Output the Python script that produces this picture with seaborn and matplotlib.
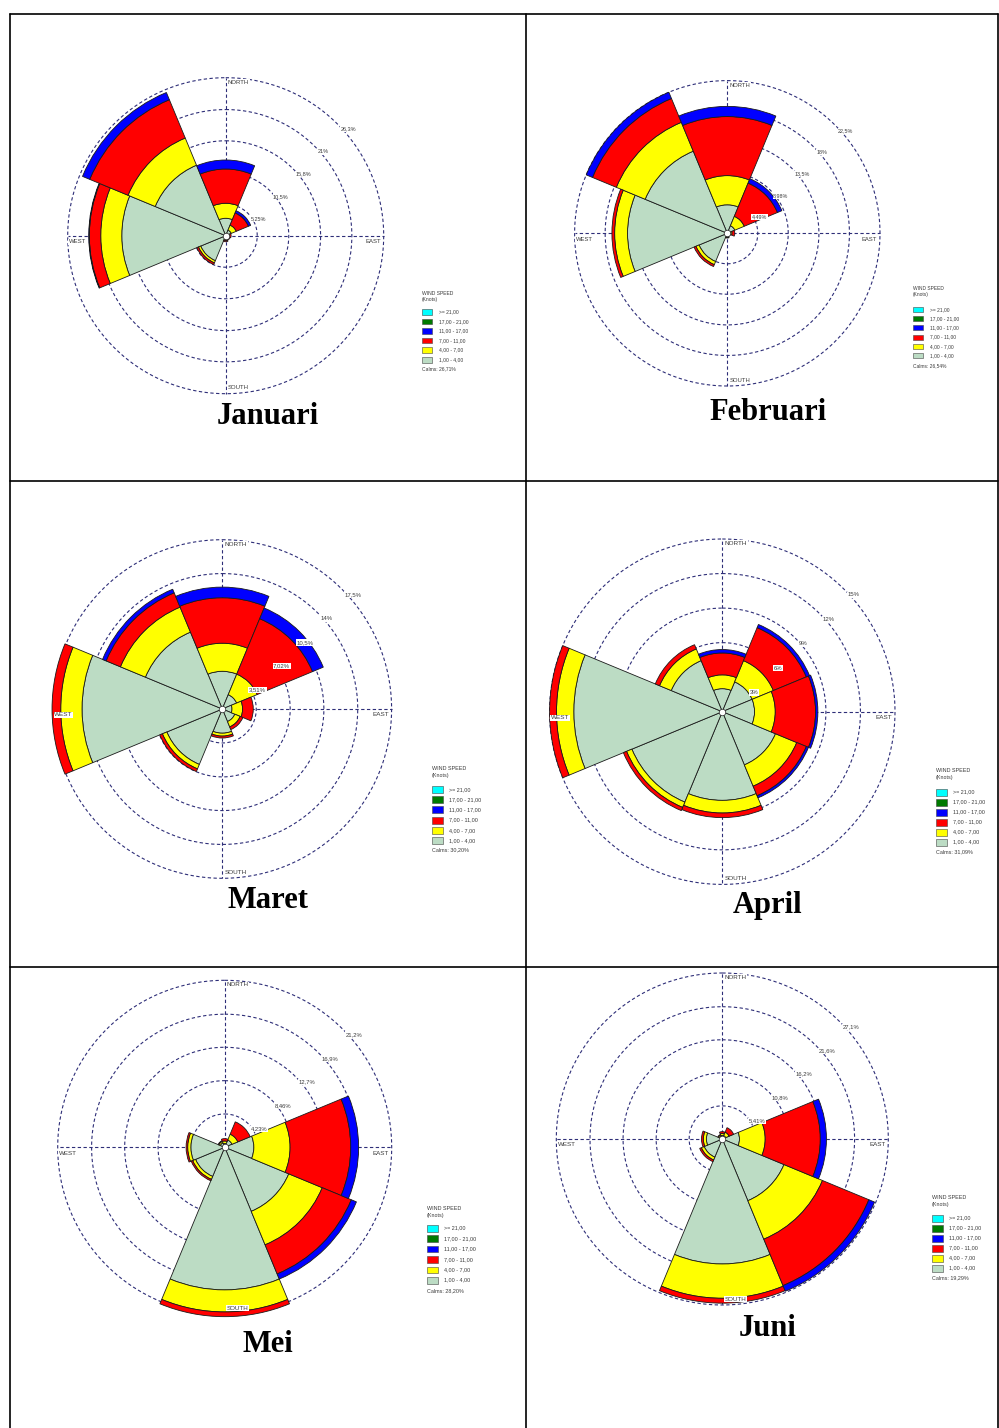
import numpy as np
import pandas as pd
import matplotlib
matplotlib.use("Agg")
import matplotlib.pyplot as plt
import seaborn as sns
from matplotlib.patches import Rectangle

W_PX, H_PX = 999, 1428
DPI = 100

DIRECTIONS = ["N", "NE", "E", "SE", "S", "SW", "W", "NW"]
SPEED_CLASSES = ["1,00 - 4,00", "4,00 - 7,00", "7,00 - 11,00", "11,00 - 17,00", "17,00 - 21,00", ">= 21,00"]
SPEED_COLORS = ["#BCDCC4", "#FFFF00", "#FF0000", "#0000FF", "#007A00", "#00FFFF"]

# frequency (%) per direction N, NE, E, SE, S, SW, W, NW for each speed class (knots)
JAN_1_4 = [2.9, 1.0, 0.4, 0.4, 0.6, 4.5, 17.3, 12.7]
JAN_4_7 = [2.5, 0.9, 0.2, 0.2, 0.2, 0.4, 3.5, 4.9]
JAN_7_11 = [5.7, 2.2, 0.3, 0.2, 0.2, 0.3, 1.9, 6.9]
JAN_11_17 = [1.5, 0.4, 0.0, 0.0, 0.0, 0.0, 0.1, 1.3]

FEB_1_4 = [4.2, 1.2, 0.5, 0.3, 0.5, 4.5, 14.7, 13.1]
FEB_4_7 = [4.3, 1.5, 0.2, 0.1, 0.1, 0.5, 1.9, 4.6]
FEB_7_11 = [8.7, 5.3, 0.4, 0.1, 0.1, 0.3, 0.4, 3.8]
FEB_11_17 = [1.5, 0.7, 0.0, 0.0, 0.0, 0.0, 0.0, 1.0]

MAR_1_4 = [3.9, 1.6, 1.0, 1.4, 2.5, 6.2, 14.5, 8.6]
MAR_4_7 = [2.9, 2.3, 1.1, 0.6, 0.3, 0.5, 2.2, 2.8]
MAR_7_11 = [4.7, 6.2, 1.1, 0.3, 0.2, 0.3, 0.9, 1.6]
MAR_11_17 = [1.1, 1.2, 0.0, 0.0, 0.0, 0.0, 0.0, 0.4]

APR_1_4 = [2.0, 2.8, 2.8, 5.0, 7.7, 8.5, 12.9, 4.8]
APR_4_7 = [1.2, 2.0, 1.8, 2.0, 1.1, 0.5, 1.5, 1.1]
APR_7_11 = [1.9, 3.1, 3.5, 0.9, 0.4, 0.3, 0.6, 0.4]
APR_11_17 = [0.3, 0.3, 0.2, 0.2, 0.0, 0.0, 0.0, 0.0]

MEI_1_4 = [0.5, 1.0, 3.7, 8.8, 18.1, 4.0, 4.3, 0.6]
MEI_4_7 = [0.3, 0.8, 4.6, 4.6, 2.8, 0.4, 0.4, 0.2]
MEI_7_11 = [0.3, 1.7, 7.7, 4.0, 0.6, 0.2, 0.2, 0.1]
MEI_11_17 = [0.0, 0.0, 1.0, 0.7, 0.0, 0.0, 0.0, 0.0]

JUN_1_4 = [0.6, 0.6, 2.8, 10.9, 20.4, 3.2, 2.6, 0.5]
JUN_4_7 = [0.3, 0.6, 4.2, 6.8, 5.6, 0.5, 0.5, 0.2]
JUN_7_11 = [0.3, 0.8, 9.0, 8.2, 0.8, 0.3, 0.3, 0.1]
JUN_11_17 = [0.0, 0.0, 1.0, 1.0, 0.0, 0.0, 0.0, 0.0]

MONTHS = ["Januari", "Februari", "Maret", "April", "Mei", "Juni"]
RINGS = [
	[5.25, 10.5, 15.8, 21.0, 26.3],
	[4.49, 8.98, 13.5, 18.0, 22.5],
	[3.51, 7.02, 10.5, 14.0, 17.5],
	[3.0, 6.0, 9.0, 12.0, 15.0],
	[4.23, 8.46, 12.7, 16.9, 21.2],
	[5.41, 10.8, 16.2, 21.6, 27.1],
]
CALMS = ["26,71%", "26,54%", "30,20%", "31,09%", "28,20%", "19,29%"]

MONTH_SERIES = {
	"Januari": [JAN_1_4, JAN_4_7, JAN_7_11, JAN_11_17],
	"Februari": [FEB_1_4, FEB_4_7, FEB_7_11, FEB_11_17],
	"Maret": [MAR_1_4, MAR_4_7, MAR_7_11, MAR_11_17],
	"April": [APR_1_4, APR_4_7, APR_7_11, APR_11_17],
	"Mei": [MEI_1_4, MEI_4_7, MEI_7_11, MEI_11_17],
	"Juni": [JUN_1_4, JUN_4_7, JUN_7_11, JUN_11_17],
}

# layout in pixels: rose centre/radius, title centre, legend box
LAYOUT = [
	dict(cx=225.7, cy=235.7, r=158.0, tx=268, ty=416, lx=422, lt=291, lk=297, lb=309, ls=9.6, bw=10, bh=5.5, lc=366, fs=3.6, rfs=4.0),
	dict(cx=727.3, cy=233.3, r=152.7, tx=768, ty=412, lx=913, lt=286, lk=292, lb=307, ls=9.2, bw=9.5, bh=5.0, lc=363, fs=3.5, rfs=3.9),
	dict(cx=222.3, cy=709.0, r=169.3, tx=268, ty=900, lx=432, lt=766, lk=773, lb=786, ls=10.2, bw=11, bh=7.0, lc=847, fs=3.9, rfs=4.3),
	dict(cx=722.3, cy=711.7, r=172.7, tx=768, ty=906, lx=936, lt=768, lk=775, lb=789, ls=10.0, bw=11, bh=6.5, lc=849, fs=3.9, rfs=4.3),
	dict(cx=224.7, cy=1147.3, r=167.0, tx=268, ty=1345, lx=427, lt=1206, lk=1213, lb=1225, ls=10.4, bw=11, bh=6.5, lc=1288, fs=3.9, rfs=4.2),
	dict(cx=722.3, cy=1139.0, r=166.0, tx=768, ty=1329, lx=932, lt=1195, lk=1202, lb=1215, ls=10.0, bw=10.5, bh=6.5, lc=1275, fs=3.9, rfs=4.2),
]

GRID_COLOR = "#2e2e78"
TEXT_COLOR = "#3a3a3a"


def _long_frame() -> pd.DataFrame:
	rows = []
	for month, series in MONTH_SERIES.items():
		for cls, vals in zip(SPEED_CLASSES, series):
			for d, v in zip(DIRECTIONS, vals):
				rows.append({"month": month, "direction": d, "speed": cls, "freq": v})
	return pd.DataFrame(rows)


def _fmt(v: float) -> str:
	return f"{v:g}".replace(".", ",") + "%"


def draw_rose(fig, df, lay, rings, palette):
	cx, cy, R = lay["cx"], lay["cy"], lay["r"]
	rmax = rings[-1]
	ax = fig.add_axes(
		[(cx - R) / W_PX, 1 - (cy + R) / H_PX, 2 * R / W_PX, 2 * R / H_PX],
		projection="polar",
		zorder=2,
	)
	ax.set_theta_zero_location("N")
	ax.set_theta_direction(-1)
	ax.set_ylim(0, rmax)
	ax.axis("off")

	# dashed grid
	dash = (0, (3.0, 2.2))
	tt = np.linspace(0, 2 * np.pi, 400)
	for r in rings:
		ax.plot(tt, np.full_like(tt, r), ls=dash, color=GRID_COLOR, lw=0.8, zorder=1, clip_on=False)
	for t in [0, np.pi / 2, np.pi, 3 * np.pi / 2]:
		ax.plot([t, t], [0, rmax], ls=dash, color=GRID_COLOR, lw=0.8, zorder=1, clip_on=False)

	# stacked sectors
	wide = df.pivot(index="direction", columns="speed", values="freq").reindex(DIRECTIONS)
	wide = wide[[c for c in SPEED_CLASSES if c in wide.columns]]
	theta = np.deg2rad(np.arange(len(DIRECTIONS)) * 45.0)
	bottom = np.zeros(len(DIRECTIONS))
	for cls in wide.columns:
		vals = wide[cls].to_numpy()
		mask = vals > 0
		bars = ax.bar(theta[mask], vals[mask], width=np.pi / 4, bottom=bottom[mask],
			color=palette[SPEED_CLASSES.index(cls)], edgecolor="#1a1a1a", linewidth=0.6, zorder=3)
		for b in bars:
			b.set_clip_on(False)
		bottom = bottom + vals

	ax.scatter([0], [0], s=22, c="white", edgecolors="#222222", linewidths=0.5, zorder=6)

	box = dict(boxstyle="square,pad=0.1", fc="white", ec="none")
	for r in rings:
		ax.annotate(_fmt(r), xy=(np.pi / 4, r), xytext=(2.0, -2.0), textcoords="offset points",
			ha="left", va="top", fontsize=lay["rfs"], color=TEXT_COLOR, bbox=box, zorder=7)

	fs = lay["rfs"] + 0.3
	ax.annotate("NORTH", xy=(0, rmax), xytext=(1.5, -1.5), textcoords="offset points",
		ha="left", va="top", fontsize=fs, color=TEXT_COLOR, bbox=box, zorder=7)
	ax.annotate("EAST", xy=(np.pi / 2, rmax), xytext=(-2, -2.5), textcoords="offset points",
		ha="right", va="top", fontsize=fs, color=TEXT_COLOR, bbox=box, zorder=7)
	ax.annotate("SOUTH", xy=(np.pi, rmax), xytext=(1.5, 2.5), textcoords="offset points",
		ha="left", va="bottom", fontsize=fs, color=TEXT_COLOR, bbox=box, zorder=7)
	ax.annotate("WEST", xy=(3 * np.pi / 2, rmax), xytext=(1.0, -2.5), textcoords="offset points",
		ha="left", va="top", fontsize=fs, color=TEXT_COLOR, bbox=box, zorder=7)
	return ax


def draw_legend(ov, lay, calm, palette):
	x, fs = lay["lx"], lay["fs"]
	ov.text(x, lay["lt"], "WIND SPEED", fontsize=fs, ha="left", va="top", color=TEXT_COLOR)
	ov.text(x, lay["lk"], "(Knots)", fontsize=fs, ha="left", va="top", color=TEXT_COLOR)
	order = list(range(len(SPEED_CLASSES)))[::-1]
	for i, k in enumerate(order):
		top = lay["lb"] + i * lay["ls"]
		ov.add_patch(Rectangle((x, top), lay["bw"], lay["bh"], facecolor=palette[k],
			edgecolor="#444444", linewidth=0.4))
		ov.text(x + 17, top + lay["bh"] / 2, SPEED_CLASSES[k], fontsize=fs, ha="left",
			va="center", color=TEXT_COLOR)
	ov.text(x, lay["lc"], f"Calms: {calm}", fontsize=fs, ha="left", va="top", color=TEXT_COLOR)


def main() -> None:
	sns.set_theme(style="white")
	plt.rcParams["font.family"] = ["Liberation Sans", "DejaVu Sans"]
	palette = sns.color_palette(SPEED_COLORS)

	df = _long_frame()
	fig = plt.figure(figsize=(W_PX / DPI, H_PX / DPI), dpi=DPI)
	fig.patch.set_facecolor("white")

	ov = fig.add_axes([0, 0, 1, 1], zorder=1)
	ov.set_xlim(0, W_PX)
	ov.set_ylim(H_PX, 0)
	ov.axis("off")
	ov.patch.set_alpha(0)

	# table frame
	lw = 1.2
	ov.plot([10, 998], [14, 14], color="black", lw=lw)
	ov.plot([10, 10], [14, H_PX], color="black", lw=lw)
	ov.plot([998, 998], [14, H_PX], color="black", lw=lw)
	ov.plot([526, 526], [14, H_PX], color="black", lw=lw)
	ov.plot([10, 998], [481, 481], color="black", lw=lw)
	ov.plot([10, 998], [967, 967], color="black", lw=lw)

	for month, lay, rings, calm in zip(MONTHS, LAYOUT, RINGS, CALMS):
		draw_rose(fig, df[df["month"] == month], lay, rings, palette)
		draw_legend(ov, lay, calm, palette)
		ov.text(lay["tx"], lay["ty"], month, fontsize=22, fontweight="bold",
			family=["Liberation Serif", "DejaVu Serif"], ha="center", va="center", color="black")

	fig.savefig("out.png", dpi=DPI, facecolor="white")
	plt.close(fig)


if __name__ == "__main__":
	main()
